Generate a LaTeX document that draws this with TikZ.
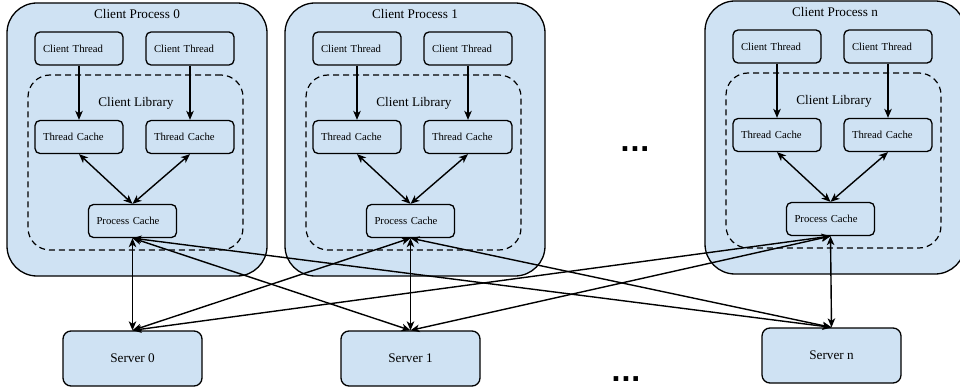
\documentclass[tikz,border=0pt]{standalone}
\usepackage{fontspec}
\setmainfont{Liberation Serif}
\newfontfamily\dotsfont{DejaVu Sans}
\usetikzlibrary{arrows.meta}
\definecolor{boxblue}{HTML}{CFE2F3}
\begin{document}
\begin{tikzpicture}[x=1pt,y=-1pt,
  proc/.style={draw, fill=boxblue, line width=1.3pt, rounded corners=30pt, inner sep=0pt, minimum width=260pt, minimum height=273pt},
  libbox/.style={draw, dash pattern=on 6pt off 4pt, line width=1.2pt, rounded corners=22pt, inner sep=0pt, minimum width=215pt, minimum height=175pt},
  bigtext/.style={font=\fontsize{13.2pt}{15pt}\selectfont, inner sep=0pt},
  smallbox/.style={draw, fill=boxblue, line width=1.3pt, rounded corners=5pt, inner xsep=8pt, inner ysep=0pt, text width=72pt, align=left, minimum height=33pt, font=\fontsize{10.7pt}{12pt}\selectfont},
  serverbox/.style={draw, fill=boxblue, line width=1.3pt, rounded corners=8pt, inner sep=0pt, minimum width=139pt, minimum height=55pt, font=\fontsize{13.2pt}{15pt}\selectfont},
  arr/.style={line width=1.4pt, >={Stealth[length=9pt,width=7.5pt,inset=2.5pt]}},
  dotsnode/.style={anchor=base, inner sep=0pt, font=\dotsfont\bfseries\fontsize{26pt}{28pt}\selectfont}
]
\clip (0,0) rectangle (960,390);
\fill[white] (0,0) rectangle (960,390);

\foreach \i/\dx/\dy in {0/0/0, 1/278/0, n/698/-2} {
  \begin{scope}[shift={(\dx,\dy)}]
    \node[proc] (p\i) at (137,139.5) {};
    \node[bigtext] (t\i) at (137,14) {Client Process \i};
    \node[libbox] (lib\i) at (135.5,162.5) {};
    \node[bigtext] (lt\i) at (136,103) {Client Library};
    \node[smallbox] (cta\i) at (79,48.5) {Client Thread};
    \node[smallbox] (ctb\i) at (190,48.5) {Client Thread};
    \node[smallbox] (tca\i) at (79,137) {Thread Cache};
    \node[smallbox] (tcb\i) at (190,137) {Thread Cache};
    \node[smallbox] (pc\i) at (132.5,221) {Process Cache};
    \draw[arr,->] (cta\i) -- (tca\i);
    \draw[arr,->] (ctb\i) -- (tcb\i);
    \draw[arr,<->] (tca\i.south) -- (pc\i.north);
    \draw[arr,<->] (tcb\i.south) -- (pc\i.north);
  \end{scope}
}

\node[serverbox] (s0) at (132.5,358.5) {Server 0};
\node[serverbox] (s1) at (410.5,358.5) {Server 1};
\node[serverbox] (sn) at (831.5,355.5) {Server n};

\foreach \a in {0,1,n} {
  \foreach \b in {0,1,n} {
    \draw[arr,<->] (pc\a.south) -- (s\b.north);
  }
}

\node[dotsnode] (dotsA) at (635,152) {...};
\node[dotsnode] (dotsB) at (626,381) {...};
\end{tikzpicture}
\end{document}
